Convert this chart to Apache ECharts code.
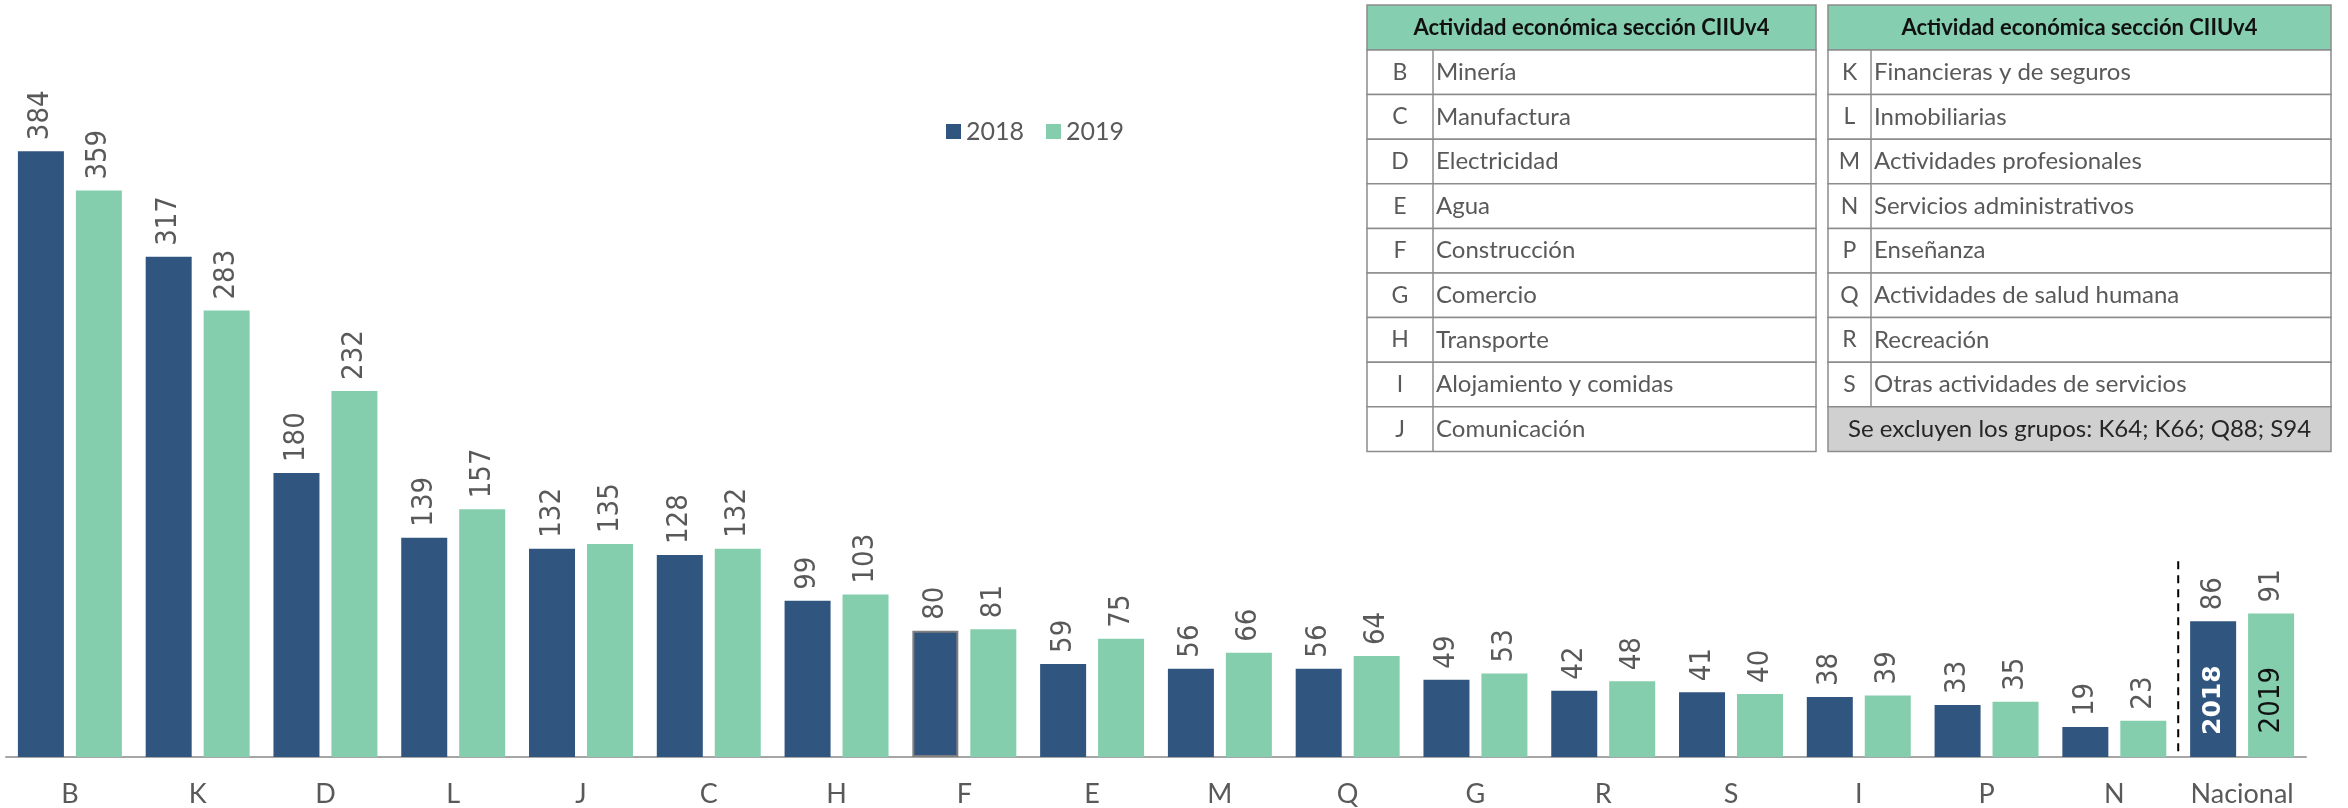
<!DOCTYPE html>
<html>
<head>
<meta charset="utf-8">
<script src="https://cdn.jsdelivr.net/npm/echarts@6/dist/echarts.min.js"></script>
<style>
  html, body { margin: 0; padding: 0; background: #fff; }
  #main { width: 2348px; height: 808px; }
</style>
</head>
<body>
<div id="main"></div>
<script>
// categories (CIIU sections) + national total
var categories = ["B", "K", "D", "L", "J", "C", "H", "F", "E", "M", "Q", "G", "R", "S", "I", "P", "N", "Nacional"];
var values2018 = [384, 317, 180, 139, 132, 128, 99, 80, 59, 56, 56, 49, 42, 41, 38, 33, 19, 86];
var values2019 = [359, 283, 232, 157, 135, 132, 103, 81, 75, 66, 64, 53, 48, 40, 39, 35, 23, 91];
var seriesNames = ["2018", "2019"];

// table contents
var tableHeader = "Actividad económica sección CIIUv4";
var leftCodes = ["B", "C", "D", "E", "F", "G", "H", "I", "J"];
var leftNames = ["Minería", "Manufactura", "Electricidad", "Agua", "Construcción", "Comercio", "Transporte", "Alojamiento y comidas", "Comunicación"];
var rightCodes = ["K", "L", "M", "N", "P", "Q", "R", "S"];
var rightNames = ["Financieras y de seguros", "Inmobiliarias", "Actividades profesionales", "Servicios administrativos", "Enseñanza", "Actividades de salud humana", "Recreación", "Otras actividades de servicios"];
var excludedNote = "Se excluyen los grupos: K64; K66; Q88; S94";

var DARK = "#30557f";
var GREEN = "#84ceae";
var GRAY_TXT = "#595959";
var FONT = "Lato, 'Noto Sans', sans-serif";
var NUM_FONT = "'Liberation Sans Narrow', 'DejaVu Sans Condensed', 'Liberation Sans', sans-serif";

var myChart = echarts.init(document.getElementById("main"));

function barData(vals, color) {
  return vals.map(function (v, i) {
    var item = { value: v };
    // F 2018 has a grey outline in the source
    if (color === DARK && categories[i] === "F") {
      item.itemStyle = { borderColor: "#7f7f7f", borderWidth: 2 };
    }
    return item;
  });
}

var labelOpt = {
  show: true,
  position: "top",
  rotate: 90,
  align: "left",
  verticalAlign: "middle",
  distance: 11,
  color: GRAY_TXT,
  fontSize: 29,
  fontFamily: NUM_FONT
};

myChart.setOption({
  animation: false,
  backgroundColor: "#fff",
  grid: { left: 6, right: 42, top: 47, bottom: 50 },
  legend: {
    data: seriesNames,
    left: 941,
    top: 114,
    icon: "rect",
    itemWidth: 15,
    itemHeight: 15,
    itemGap: 22,
    textStyle: { fontSize: 25, color: GRAY_TXT, fontFamily: FONT }
  },
  xAxis: {
    type: "category",
    data: categories,
    axisLine: { lineStyle: { color: "#a6a6a6", width: 2 } },
    axisTick: { show: false },
    axisLabel: { interval: 0, color: GRAY_TXT, fontSize: 27, fontFamily: FONT, margin: 24 }
  },
  yAxis: {
    type: "value",
    min: 0,
    max: 450,
    show: false,
    splitLine: { show: false }
  },
  series: [
    {
      name: seriesNames[0],
      type: "bar",
      barWidth: 46,
      barGap: "26%",
      itemStyle: { color: DARK },
      label: labelOpt,
      data: barData(values2018, DARK)
    },
    {
      name: seriesNames[1],
      type: "bar",
      barWidth: 46,
      barGap: "26%",
      itemStyle: { color: GREEN },
      label: labelOpt,
      data: barData(values2019, GREEN)
    }
  ]
});

// ---- tables + extra annotations as graphic elements ----
function buildTable(x0, x1, xDiv, codes, names, note) {
  var els = [];
  var top = 5, headH = 45, rowH = 44.6;
  var border = "#8c8c8c";
  els.push({
    type: "rect",
    shape: { x: x0, y: top, width: x1 - x0, height: headH },
    style: { fill: "#85ceaf", stroke: border, lineWidth: 1.5 }
  });
  els.push({
    type: "text",
    style: {
      text: tableHeader, x: (x0 + x1) / 2, y: top + headH / 2,
      align: "center", verticalAlign: "middle",
      fontSize: 22, fontWeight: "bold", fontFamily: FONT, fill: "#111"
    }
  });
  var y = top + headH;
  codes.forEach(function (c, i) {
    els.push({
      type: "rect",
      shape: { x: x0, y: y, width: x1 - x0, height: rowH },
      style: { fill: "#fff", stroke: border, lineWidth: 1.5 }
    });
    els.push({
      type: "line",
      shape: { x1: xDiv, y1: y, x2: xDiv, y2: y + rowH },
      style: { stroke: border, lineWidth: 1.5 }
    });
    els.push({
      type: "text",
      style: {
        text: c, x: (x0 + xDiv) / 2, y: y + rowH / 2,
        align: "center", verticalAlign: "middle",
        fontSize: 23, fontFamily: FONT, fill: GRAY_TXT
      }
    });
    els.push({
      type: "text",
      style: {
        text: names[i], x: xDiv + 3, y: y + rowH / 2,
        align: "left", verticalAlign: "middle",
        fontSize: 24, fontFamily: FONT, fill: GRAY_TXT
      }
    });
    y += rowH;
  });
  if (note) {
    els.push({
      type: "rect",
      shape: { x: x0, y: y, width: x1 - x0, height: rowH },
      style: { fill: "#d0d0d0", stroke: border, lineWidth: 1.5 }
    });
    els.push({
      type: "text",
      style: {
        text: note, x: (x0 + x1) / 2, y: y + rowH / 2,
        align: "center", verticalAlign: "middle",
        fontSize: 24, fontFamily: FONT, fill: "#262626"
      }
    });
  }
  return els;
}

var nIdx = categories.indexOf("N");
var natIdx = categories.indexOf("Nacional");
var pN = myChart.convertToPixel({ xAxisIndex: 0 }, categories[nIdx]);
var pNat = myChart.convertToPixel({ xAxisIndex: 0 }, categories[natIdx]);
var sepX = (pN + pNat) / 2;
var yTop = myChart.convertToPixel({ yAxisIndex: 0 }, 124);
var yBase = myChart.convertToPixel({ yAxisIndex: 0 }, 0);
var barOffset = 29; // half bar + half gap
var yMid = myChart.convertToPixel({ yAxisIndex: 0 }, 36);

var graphics = []
  .concat(buildTable(1367, 1816, 1433, leftCodes, leftNames, null))
  .concat(buildTable(1828, 2331, 1871, rightCodes, rightNames, excludedNote));

graphics.push({
  type: "line",
  z: 100,
  shape: { x1: sepX, y1: yTop, x2: sepX, y2: yBase },
  style: { stroke: "#000", lineWidth: 2, lineDash: [8, 6] }
});
graphics.push({
  type: "text",
  z: 100,
  x: pNat - barOffset, y: yMid, rotation: Math.PI / 2,
  style: {
    text: seriesNames[0], x: 0, y: 0, align: "center", verticalAlign: "middle",
    fontSize: 25, fontWeight: "bold", fontFamily: "'DejaVu Sans', sans-serif", fill: "#fff"
  }
});
graphics.push({
  type: "text",
  z: 100,
  x: pNat + barOffset, y: yMid, rotation: Math.PI / 2,
  style: {
    text: seriesNames[1], x: 0, y: 0, align: "center", verticalAlign: "middle",
    fontSize: 29, fontFamily: NUM_FONT, fill: "#111"
  }
});

myChart.setOption({ graphic: graphics });

window.onresize = function () {
  myChart.resize();
};
</script>
</body>
</html>
